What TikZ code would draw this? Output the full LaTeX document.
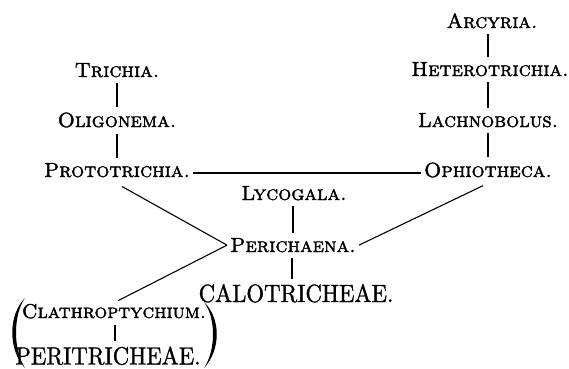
\documentclass[tikz,border=0pt]{standalone}
\usepackage{fontspec}
\newfontfamily\scb{lmromancaps10-regular.otf}[FakeBold=1.8]
\newfontfamily\rmb{lmroman10-regular.otf}[FakeBold=1.2,FakeStretch=0.91]
\begin{document}
\begin{tikzpicture}[x=1pt,y=-1pt,
  lbl/.style={inner sep=3pt, anchor=base, font=\fontsize{20.5}{22}\scb},
  big/.style={inner sep=3pt, anchor=base, font=\fontsize{25}{27}\rmb},
  link/.style={line width=1.1pt},
  vlink/.style={line width=1.1pt, shorten <=3pt, shorten >=2pt}]
\useasboundingbox[fill=white] (0,0) rectangle (569,368);
\node[lbl] (arcyria) at (492,28) {Arcyria.};
\node[lbl] (hetero) at (490,76) {Heterotrichia.};
\node[lbl] (lachno) at (488,127) {Lachnobolus.};
\node[lbl] (ophio) at (488,177) {Ophiotheca.};
\node[lbl] (trichia) at (117,77) {Trichia.};
\node[lbl] (oligo) at (117,127) {Oligonema.};
\node[lbl] (proto) at (117,177) {Prototrichia.};
\node[lbl] (lyco) at (294,200) {Lycogala.};
\node[lbl] (peri) at (293,252) {Perichaena.};
\node[big] (calo) at (296,302) {CALOTRICHEAE.};
\node[lbl, font=\fontsize{20}{22}\scb] (clath) at (114,318) {Clathroptychium.};
\node[big] (perit) at (108,364.5) {PERITRICHEAE.};
\draw[vlink] ([xshift=-4pt]arcyria.south) -- ([xshift=-4pt]arcyria.south |- hetero.north);
\draw[vlink] ([xshift=-2pt]hetero.south) -- ([xshift=-2pt]hetero.south |- lachno.north);
\draw[vlink] (lachno.south) -- (lachno.south |- ophio.north);
\draw[vlink] (trichia.south) -- (trichia.south |- oligo.north);
\draw[vlink] (oligo.south) -- (oligo.south |- proto.north);
\draw[vlink] ([xshift=-1pt]lyco.south) -- ([xshift=-1pt]lyco.south |- peri.north);
\draw[vlink] ([xshift=-1pt]peri.south) -- ([xshift=-1pt]peri.south |- calo.north);
\draw[vlink] ([xshift=1pt]clath.south) -- ([xshift=1pt]clath.south |- perit.north);
\draw[link] ([yshift=4pt]proto.base east) -- ([yshift=4pt]ophio.base west);
\draw[link] ([xshift=5pt,yshift=-6pt]proto.south) -- (peri.west);
\draw[link] ([xshift=4pt]clath.north) -- (peri.west);
\draw[link] (peri.east) -- ([xshift=-5pt,yshift=-5pt]ophio.south);
\fill (25,298) .. controls (8,315) and (8,350) .. (25,368) .. controls (13,350) and (13,315) .. (25,298);
\fill (204,302) .. controls (221,318) and (221,350) .. (204,368) .. controls (216,350) and (216,318) .. (204,302);
\end{tikzpicture}
\end{document}
